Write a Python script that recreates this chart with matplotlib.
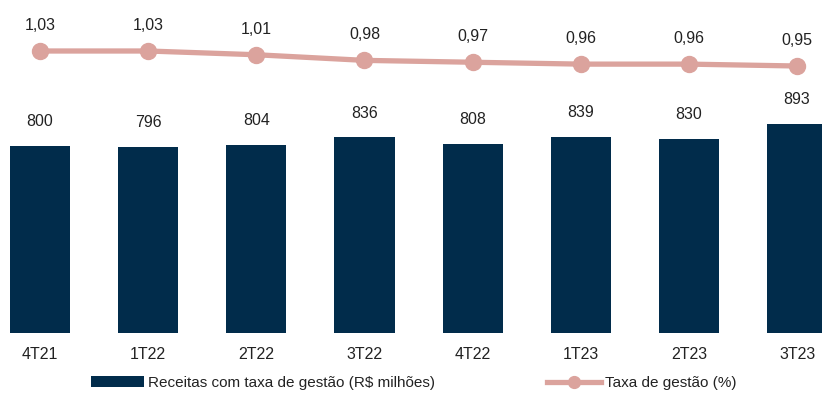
import matplotlib
matplotlib.use("Agg")
import matplotlib.pyplot as plt
from matplotlib import font_manager
from matplotlib.lines import Line2D
from matplotlib.patches import Patch

quarters = ["4T21", "1T22", "2T22", "3T22", "4T22", "1T23", "2T23", "3T23"]
receitas = [800, 796, 804, 836, 808, 839, 830, 893]
taxa = [1.03, 1.03, 1.01, 0.98, 0.97, 0.96, 0.96, 0.95]
taxa_labels = ["1,03", "1,03", "1,01", "0,98", "0,97", "0,96", "0,96", "0,95"]

names = {f.name for f in font_manager.fontManager.ttflist}
family = [n for n in ["Liberation Sans Narrow", "Liberation Sans", "DejaVu Sans"] if n in names]
plt.rcParams["font.family"] = family

bar_color = "#012C4B"
line_color = "#DBA39D"
text_color = "#222222"

fig = plt.figure(figsize=(8.22, 3.94), dpi=100)
ax = fig.add_axes([0, 61 / 394, 1, 333 / 394])
x = list(range(len(quarters)))

ax.bar(x, receitas, width=0.555, color=bar_color, zorder=2)
ax.set_xlim(-0.37, 7.23)
ax.set_ylim(0, 1423)
for xi, v in zip(x, receitas):
    ax.annotate(str(v), (xi, v), xytext=(0, 12), textcoords="offset points",
                ha="center", va="bottom", fontsize=11.5, color=text_color)

ax.set_xticks(x)
ax.set_xticklabels(quarters, fontsize=11.5, color=text_color)
ax.tick_params(axis="x", length=0, pad=10)
ax.set_yticks([])
for s in ax.spines.values():
    s.set_visible(False)

ax2 = ax.twinx()
ax2.plot(x, taxa, color=line_color, lw=3.8, marker="o", markersize=11.5,
         solid_capstyle="round", zorder=3)
ax2.set_ylim(-0.474, 1.302)
ax2.set_yticks([])
for s in ax2.spines.values():
    s.set_visible(False)
for xi, v, lab in zip(x, taxa, taxa_labels):
    ax2.annotate(lab, (xi, v), xytext=(0, 13), textcoords="offset points",
                 ha="center", va="bottom", fontsize=11.5, color=text_color)

handles = [
    Patch(facecolor=bar_color, edgecolor="none"),
    Line2D([0], [0], color=line_color, lw=3.8, marker="o", markersize=8.5),
]
labels = ["Receitas com taxa de gestão (R$ milhões)", "Taxa de gestão (%)"]
fig.legend(handles, labels, loc="center", bbox_to_anchor=(0.503, 0.028), ncol=2,
           frameon=False, fontsize=11, handlelength=3.5, handleheight=0.7,
           handletextpad=0.25, columnspacing=7.35, labelcolor=text_color)

fig.savefig("out.png", dpi=100)
